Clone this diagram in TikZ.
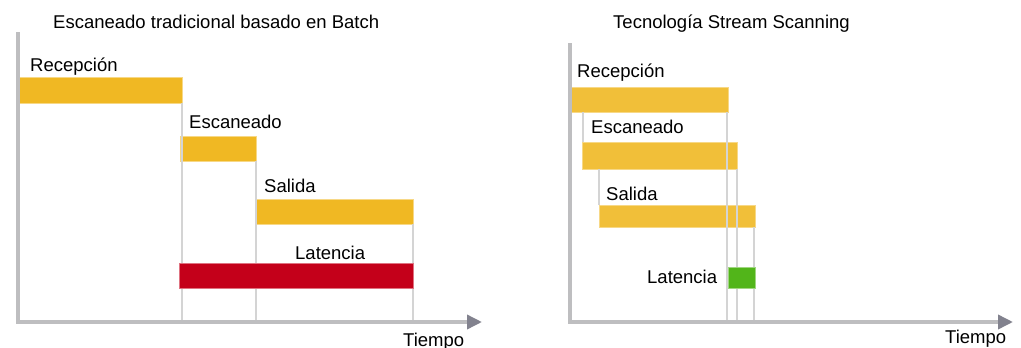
\documentclass[tikz,border=0pt]{standalone}
\usepackage{fontspec}
\setmainfont{Liberation Sans}
\definecolor{BarOrange}{RGB}{240,184,35}
\definecolor{BarRed}{RGB}{196,0,26}
\definecolor{BarGreen}{RGB}{82,181,26}
\definecolor{AxisGray}{RGB}{190,190,192}
\definecolor{TipGray}{RGB}{130,130,142}
\definecolor{GuideGray}{RGB}{212,212,212}
\usetikzlibrary{arrows.meta, calc}
\tikzset{
  bar/.style={fill=#1, draw=#1!55, line width=1pt, anchor=north west, inner sep=0pt, outer sep=0pt},
  lbl/.style={anchor=base west, inner sep=0pt, font=\fontsize{18.5}{22}\selectfont},
  axis/.style={AxisGray, line width=3.5pt, -{Triangle[length=15pt, width=14pt, fill=TipGray, color=TipGray]}},
  yaxis/.style={AxisGray, line width=3.5pt},
  guide/.style={GuideGray, line width=2pt}
}

\begin{document}
\begin{tikzpicture}[x=1pt, y=-1pt]
    \useasboundingbox (0,0) rectangle (1021,348);
    % left: batch
    \coordinate (oA) at (18,322);
    \coordinate (topA) at (18,32);
    \coordinate (tipA) at (482,322);
    \node[lbl] (titleA) at (53,28) {Escaneado tradicional basado en Batch};
    \node[bar=BarOrange, minimum width=164pt, minimum height=26pt] (recA) at (18,77) {};
    \node[bar=BarOrange, minimum width=76pt, minimum height=25pt] (escA) at (180,136) {};
    \node[bar=BarOrange, minimum width=158pt, minimum height=25pt] (salA) at (255,199) {};
    \draw[guide] (recA.south east) -- (recA.south east |- oA);
    \draw[guide] (escA.south east) -- (escA.south east |- oA);
    \draw[guide] (salA.south east) -- (salA.south east |- oA);
    \node[bar=BarRed, minimum width=234pt, minimum height=25pt] (latA) at (179,263) {};
    \node[lbl] (lrecA) at (30,71) {Recepción};
    \node[lbl] (lescA) at (189,128) {Escaneado};
    \node[lbl] (lsalA) at (264,192) {Salida};
    \node[lbl] (llatA) at (295,259) {Latencia};
    \draw[yaxis] (topA) -- (oA);
    \draw[axis] ($(oA)+(-1.75,0)$) -- (tipA);
    \node[lbl] (timeA) at (403,346) {Tiempo};

    % right: stream scanning
    \coordinate (oB) at (570,322);
    \coordinate (topB) at (570,43);
    \coordinate (tipB) at (1013,322);
    \node[lbl] (titleB) at (613,28) {Tecnología Stream Scanning};
    \node[bar=BarOrange, minimum width=158pt, minimum height=25pt, fill opacity=.9] (recB) at (570,87) {};
    \node[bar=BarOrange, minimum width=155pt, minimum height=27pt, fill opacity=.9] (escB) at (582,142) {};
    \node[bar=BarOrange, minimum width=156pt, minimum height=22pt, fill opacity=.9] (salB) at (599,205) {};
    \draw[guide] ($(recB.south east)+(-1,0)$) -- ($(recB.south east |- oB)+(-1,0)$);
    \draw[guide] ($(escB.north west)+(1,0)$) -- ($(escB.north west |- recB.south)+(1,0)$);
    \draw[guide] (escB.south east) -- (escB.south east |- oB);
    \draw[guide] (salB.north west) -- (salB.north west |- escB.south);
    \draw[guide] ($(salB.south east)+(-1,0)$) -- ($(salB.south east |- oB)+(-1,0)$);
    \node[bar=BarGreen, minimum width=27pt, minimum height=21pt] (latB) at (728,267) {};
    \node[lbl] (lrecB) at (577,77) {Recepción};
    \node[lbl] (lescB) at (591,133) {Escaneado};
    \node[lbl] (lsalB) at (606,200) {Salida};
    \node[lbl] (llatB) at (647,283) {Latencia};
    \draw[yaxis] (topB) -- (oB);
    \draw[axis] ($(oB)+(-1.75,0)$) -- (tipB);
    \node[lbl] (timeB) at (945,343) {Tiempo};
\end{tikzpicture}
\end{document}
